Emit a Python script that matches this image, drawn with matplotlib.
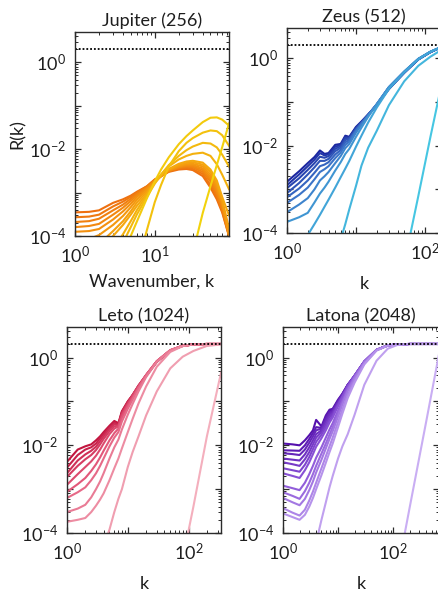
import numpy as np
import matplotlib
matplotlib.use("Agg")
import matplotlib.pyplot as plt
from matplotlib.ticker import FixedLocator, FuncFormatter, LogLocator, NullFormatter
from matplotlib.colors import to_rgb

plt.rcParams['font.family'] = ['Lato', 'DejaVu Sans']
plt.rcParams['mathtext.fontset'] = 'custom'
plt.rcParams['mathtext.rm'] = 'Lato'
plt.rcParams['mathtext.it'] = 'Lato:italic'
plt.rcParams['axes.unicode_minus'] = False

# ---------------- data ----------------
titles = ["Jupiter (256)", "Zeus (512)", "Leto (1024)", "Latona (2048)"]
kmax = [256 / 3, 512 / 3, 1024 / 3, 2048 / 3]
r_target = 2.0

k_jup = [1, 1.5, 2, 3, 4, 5, 6, 8, 10, 12, 15, 20, 25, 30, 40, 50, 60, 70, 85.3]
jupiter = [
    [3.5e-4, 3.6e-4, 3.9e-4, 5.8e-4, 7.0e-4, 8.5e-4, 1.05e-3, 1.4e-3, 2.0e-3, 2.4e-3, 3.0e-3, 3.4e-3, 3.5e-3, 3.3e-3, 2.4e-3, 1.3e-3, 7.0e-4, 3.5e-4, 1.0e-4],
    [2.7e-4, 2.8e-4, 3.1e-4, 4.8e-4, 6.2e-4, 8.0e-4, 1.0e-3, 1.4e-3, 2.0e-3, 2.4e-3, 3.1e-3, 3.6e-3, 3.7e-3, 3.5e-3, 2.7e-3, 1.5e-3, 8.0e-4, 3.8e-4, 1.0e-4],
    [2.1e-4, 2.2e-4, 2.5e-4, 3.9e-4, 5.3e-4, 7.2e-4, 9.5e-4, 1.35e-3, 1.95e-3, 2.4e-3, 3.1e-3, 3.7e-3, 3.9e-3, 3.8e-3, 3.0e-3, 1.8e-3, 9.0e-4, 4.2e-4, 1.05e-4],
    [1.6e-4, 1.7e-4, 1.9e-4, 3.1e-4, 4.5e-4, 6.4e-4, 8.8e-4, 1.3e-3, 1.9e-3, 2.4e-3, 3.2e-3, 3.8e-3, 4.1e-3, 4.0e-3, 3.3e-3, 2.0e-3, 1.05e-3, 4.8e-4, 1.05e-4],
    [1.25e-4, 1.3e-4, 1.45e-4, 2.4e-4, 3.7e-4, 5.5e-4, 8.0e-4, 1.25e-3, 1.85e-3, 2.4e-3, 3.2e-3, 3.9e-3, 4.3e-3, 4.3e-3, 3.6e-3, 2.3e-3, 1.2e-3, 5.5e-4, 1.1e-4],
    [7e-5, 8.5e-5, 1.05e-4, 1.8e-4, 2.9e-4, 4.6e-4, 7.0e-4, 1.15e-3, 1.8e-3, 2.4e-3, 3.3e-3, 4.1e-3, 4.5e-3, 4.6e-3, 4.0e-3, 2.6e-3, 1.4e-3, 6.2e-4, 1.1e-4],
    [3e-5, 4.5e-5, 6.5e-5, 1.3e-4, 2.2e-4, 3.7e-4, 6.0e-4, 1.05e-3, 1.75e-3, 2.4e-3, 3.4e-3, 4.3e-3, 4.8e-3, 5.0e-3, 4.4e-3, 3.0e-3, 1.6e-3, 7.0e-4, 1.5e-4],
    [1.5e-5, 2.5e-5, 3.5e-5, 1.0e-4, 1.8e-4, 3.1e-4, 5.0e-4, 9.5e-4, 1.7e-3, 2.4e-3, 3.5e-3, 4.6e-3, 5.2e-3, 5.4e-3, 4.9e-3, 3.4e-3, 1.9e-3, 8.0e-4, 3.0e-4],
    [1e-6, 5e-6, 1.5e-5, 5e-5, 1.1e-4, 2.2e-4, 4.0e-4, 9.0e-4, 1.7e-3, 2.6e-3, 4.0e-3, 5.8e-3, 7.0e-3, 7.8e-3, 8.3e-3, 7.0e-3, 4.5e-3, 2.6e-3, 1.2e-3],
    [1e-6, 3e-6, 8e-6, 2e-5, 7e-5, 1.6e-4, 3.2e-4, 8.0e-4, 1.6e-3, 2.6e-3, 4.3e-3, 7.0e-3, 9.5e-3, 1.15e-2, 1.4e-2, 1.35e-2, 1.1e-2, 7.5e-3, 4.0e-3],
    [1e-7, 1e-7, 1e-7, 1e-6, 3e-6, 8e-6, 2e-5, 1.4e-4, 6e-4, 1.5e-3, 4.0e-3, 9.0e-3, 1.4e-2, 1.8e-2, 2.4e-2, 2.7e-2, 2.6e-2, 2.1e-2, 1.2e-2],
    [1e-7, 1e-7, 1e-6, 5e-6, 3e-5, 1.0e-4, 2.2e-4, 7.5e-4, 1.8e-3, 3.4e-3, 6.5e-3, 1.3e-2, 2.0e-2, 2.7e-2, 4.2e-2, 5.3e-2, 5.4e-2, 4.8e-2, 3.5e-2],
    [1e-9, 1e-9, 1e-9, 1e-9, 1e-9, 1e-9, 1e-9, 1e-8, 1e-7, 3e-7, 2e-6, 1e-5, 4e-5, 4e-5, 3.4e-4, 1.4e-3, 4.3e-3, 1.1e-2, 3.9e-2],
]

k_zeus = [1, 1.5, 2, 2.5, 3, 3.5, 4, 5, 6, 7, 8, 10, 12, 15, 20, 30, 50, 80, 120, 170.7]
zeus = [
    [1.5e-3, 2.6e-3, 4.0e-3, 5.5e-3, 7.8e-3, 6.5e-3, 6.8e-3, 1.05e-2, 1.1e-2, 1.7e-2, 1.6e-2, 2.7e-2, 3.6e-2, 5.2e-2, 8.5e-2, 0.20, 0.47, 0.95, 1.40, 1.80],
    [1.25e-3, 2.2e-3, 3.4e-3, 4.8e-3, 6.8e-3, 6.0e-3, 6.4e-3, 9.5e-3, 1.05e-2, 1.6e-2, 1.55e-2, 2.6e-2, 3.5e-2, 5.2e-2, 8.6e-2, 0.20, 0.47, 0.95, 1.40, 1.80],
    [1.07e-3, 1.8e-3, 2.8e-3, 4.0e-3, 5.6e-3, 5.3e-3, 5.8e-3, 8.5e-3, 9.8e-3, 1.5e-2, 1.5e-2, 2.5e-2, 3.4e-2, 5.1e-2, 8.7e-2, 0.21, 0.48, 0.96, 1.40, 1.80],
    [8.2e-4, 1.4e-3, 2.2e-3, 3.2e-3, 4.5e-3, 4.5e-3, 5.0e-3, 7.5e-3, 9.0e-3, 1.35e-2, 1.45e-2, 2.4e-2, 3.4e-2, 5.1e-2, 8.8e-2, 0.21, 0.48, 0.96, 1.42, 1.80],
    [6.6e-4, 1.05e-3, 1.6e-3, 2.4e-3, 3.4e-3, 3.7e-3, 4.2e-3, 6.3e-3, 8.0e-3, 1.2e-2, 1.35e-2, 2.3e-2, 3.3e-2, 5.0e-2, 8.9e-2, 0.22, 0.49, 0.97, 1.42, 1.80],
    [4.9e-4, 7.5e-4, 1.1e-3, 1.7e-3, 2.5e-3, 2.9e-3, 3.4e-3, 5.2e-3, 7.0e-3, 1.05e-2, 1.25e-2, 2.2e-2, 3.2e-2, 5.0e-2, 9.0e-2, 0.22, 0.50, 0.98, 1.43, 1.82],
    [3.0e-4, 4.5e-4, 6.3e-4, 1.0e-3, 1.6e-3, 2.0e-3, 2.5e-3, 4.0e-3, 5.8e-3, 8.8e-3, 1.1e-2, 2.0e-2, 3.0e-2, 4.9e-2, 9.0e-2, 0.22, 0.50, 0.98, 1.43, 1.82],
    [1.8e-4, 2.3e-4, 2.9e-4, 5.0e-4, 8.0e-4, 1.1e-3, 1.5e-3, 2.7e-3, 4.2e-3, 6.5e-3, 8.5e-3, 1.6e-2, 2.6e-2, 4.6e-2, 8.8e-2, 0.22, 0.50, 0.98, 1.43, 1.82],
    [2e-5, 5e-5, 9e-5, 1.6e-4, 2.6e-4, 4.0e-4, 5.8e-4, 1.1e-3, 1.9e-3, 3.0e-3, 4.5e-3, 9.5e-3, 1.7e-2, 3.4e-2, 7.5e-2, 0.20, 0.48, 0.96, 1.42, 1.80],
    [1e-8, 1e-7, 5e-7, 2e-6, 5e-6, 1e-5, 1.8e-5, 3.5e-5, 7e-5, 1.6e-4, 3.5e-4, 1.2e-3, 3.5e-3, 9e-3, 2.2e-2, 8.5e-2, 0.30, 0.68, 1.10, 1.55],
    [1e-10, 1e-10, 1e-10, 1e-10, 1e-10, 1e-10, 1e-10, 1e-10, 1e-10, 1e-10, 1e-10, 1e-9, 1e-9, 1e-8, 1e-7, 1e-6, 2e-5, 7e-4, 1.6e-2, 0.22],
]

k_leto = [1, 1.5, 2, 2.5, 3, 3.5, 4, 5, 6, 7, 8, 10, 12, 15, 20, 30, 50, 80, 120, 200, 341.3]
leto = [
    [4.2e-3, 8.0e-3, 9.5e-3, 1.05e-2, 1.3e-2, 1.6e-2, 2.0e-2, 2.8e-2, 3.6e-2, 3.2e-2, 6.0e-2, 0.10, 0.14, 0.22, 0.38, 0.80, 1.45, 1.85, 2.0, 2.05, 2.05],
    [3.1e-3, 6.0e-3, 8.0e-3, 9.0e-3, 1.1e-2, 1.45e-2, 1.8e-2, 2.6e-2, 3.3e-2, 3.0e-2, 5.8e-2, 0.10, 0.14, 0.23, 0.39, 0.80, 1.45, 1.85, 2.0, 2.05, 2.05],
    [2.3e-3, 4.5e-3, 6.2e-3, 7.5e-3, 9.3e-3, 1.25e-2, 1.6e-2, 2.4e-2, 3.0e-2, 2.9e-2, 5.5e-2, 0.095, 0.14, 0.23, 0.40, 0.82, 1.47, 1.86, 2.0, 2.05, 2.05],
    [1.9e-3, 3.4e-3, 4.8e-3, 6.0e-3, 7.8e-3, 1.05e-2, 1.4e-2, 2.1e-2, 2.7e-2, 2.8e-2, 5.2e-2, 0.09, 0.14, 0.23, 0.40, 0.82, 1.47, 1.86, 2.0, 2.05, 2.05],
    [1.26e-3, 2.2e-3, 3.2e-3, 4.3e-3, 5.8e-3, 8.0e-3, 1.1e-2, 1.8e-2, 2.4e-2, 2.7e-2, 4.8e-2, 0.085, 0.13, 0.22, 0.40, 0.83, 1.48, 1.87, 2.0, 2.05, 2.05],
    [8.7e-4, 1.3e-3, 1.8e-3, 2.6e-3, 3.7e-3, 5.3e-3, 7.5e-3, 1.3e-2, 1.9e-2, 2.4e-2, 4.2e-2, 0.078, 0.12, 0.21, 0.40, 0.83, 1.48, 1.87, 2.0, 2.05, 2.05],
    [6.3e-4, 8.5e-4, 1.1e-3, 1.6e-3, 2.3e-3, 3.4e-3, 5.0e-3, 9.5e-3, 1.5e-2, 2.0e-2, 3.5e-2, 0.068, 0.11, 0.20, 0.39, 0.83, 1.48, 1.87, 2.0, 2.05, 2.05],
    [3.0e-4, 3.6e-4, 4.4e-4, 6.5e-4, 1.0e-3, 1.5e-3, 2.3e-3, 5.0e-3, 9.0e-3, 1.35e-2, 2.3e-2, 5.0e-2, 8.8e-2, 0.17, 0.36, 0.80, 1.47, 1.87, 2.0, 2.05, 2.05],
    [1.8e-4, 2.0e-4, 2.2e-4, 3.0e-4, 4.2e-4, 5.8e-4, 8.0e-4, 1.6e-3, 3.0e-3, 5.0e-3, 8.5e-3, 2.0e-2, 4.0e-2, 9.0e-2, 0.22, 0.62, 1.35, 1.83, 2.0, 2.05, 2.05],
    [1e-7, 5e-7, 2e-6, 5e-6, 1.2e-5, 2.5e-5, 5e-5, 1.2e-4, 3e-4, 6e-4, 1.0e-3, 3.2e-3, 7.0e-3, 1.6e-2, 4.8e-2, 0.17, 0.57, 1.05, 1.42, 1.85, 2.0],
    [1e-10, 1e-10, 1e-10, 1e-10, 1e-10, 1e-10, 1e-10, 1e-10, 1e-10, 1e-10, 1e-10, 1e-10, 1e-9, 1e-9, 1e-8, 1e-7, 1e-6, 2.5e-5, 4e-4, 1.6e-2, 0.45],
]

k_latona = [1, 1.5, 2, 2.5, 3, 3.5, 4, 5, 6, 7, 8, 10, 12, 15, 20, 30, 50, 80, 120, 200, 400, 682.7]
latona = [
    [1.1e-2, 1.05e-2, 1.0e-2, 1.3e-2, 1.7e-2, 2.2e-2, 3.8e-2, 2.7e-2, 4.8e-2, 6.5e-2, 6.8e-2, 0.11, 0.15, 0.24, 0.38, 0.80, 1.50, 1.90, 2.0, 2.05, 2.05, 2.05],
    [7.7e-3, 7.6e-3, 7.5e-3, 1.0e-2, 1.4e-2, 1.9e-2, 2.6e-2, 2.5e-2, 4.4e-2, 6.0e-2, 6.5e-2, 0.105, 0.15, 0.24, 0.38, 0.80, 1.50, 1.90, 2.0, 2.05, 2.05, 2.05],
    [6.6e-3, 6.3e-3, 6.0e-3, 8.0e-3, 1.15e-2, 1.6e-2, 2.2e-2, 2.4e-2, 4.0e-2, 5.5e-2, 6.2e-2, 0.10, 0.145, 0.24, 0.39, 0.81, 1.50, 1.90, 2.0, 2.05, 2.05, 2.05],
    [5.0e-3, 4.7e-3, 4.5e-3, 6.2e-3, 9.0e-3, 1.3e-2, 1.8e-2, 2.2e-2, 3.5e-2, 5.0e-2, 5.8e-2, 0.095, 0.14, 0.24, 0.39, 0.81, 1.50, 1.90, 2.0, 2.05, 2.05, 2.05],
    [4.1e-3, 3.7e-3, 3.4e-3, 4.8e-3, 7.0e-3, 1.05e-2, 1.5e-2, 2.0e-2, 3.0e-2, 4.4e-2, 5.3e-2, 0.09, 0.135, 0.23, 0.39, 0.82, 1.50, 1.90, 2.0, 2.05, 2.05, 2.05],
    [3.0e-3, 2.7e-3, 2.5e-3, 3.6e-3, 5.4e-3, 8.2e-3, 1.2e-2, 1.75e-2, 2.6e-2, 3.8e-2, 4.8e-2, 0.085, 0.13, 0.23, 0.39, 0.82, 1.50, 1.90, 2.0, 2.05, 2.05, 2.05],
    [2.3e-3, 2.0e-3, 1.8e-3, 2.7e-3, 4.1e-3, 6.3e-3, 9.3e-3, 1.45e-2, 2.2e-2, 3.3e-2, 4.3e-2, 0.078, 0.125, 0.22, 0.39, 0.82, 1.50, 1.90, 2.0, 2.05, 2.05, 2.05],
    [1.2e-3, 1.05e-3, 9.5e-4, 1.4e-3, 2.2e-3, 3.4e-3, 5.2e-3, 9.0e-3, 1.5e-2, 2.3e-2, 3.2e-2, 6.2e-2, 0.105, 0.20, 0.37, 0.81, 1.50, 1.90, 2.0, 2.05, 2.05, 2.05],
    [8.5e-4, 7.0e-4, 6.0e-4, 9.0e-4, 1.4e-3, 2.2e-3, 3.4e-3, 6.5e-3, 1.1e-2, 1.75e-2, 2.6e-2, 5.3e-2, 9.5e-2, 0.19, 0.36, 0.80, 1.50, 1.90, 2.0, 2.05, 2.05, 2.05],
    [6.3e-4, 5.0e-4, 4.3e-4, 6.0e-4, 9.5e-4, 1.5e-3, 2.4e-3, 4.7e-3, 8.5e-3, 1.4e-2, 2.1e-2, 4.5e-2, 8.5e-2, 0.17, 0.34, 0.78, 1.50, 1.90, 2.0, 2.05, 2.05, 2.05],
    [3.7e-4, 2.9e-4, 2.5e-4, 3.4e-4, 5.5e-4, 8.8e-4, 1.4e-3, 3.0e-3, 5.6e-3, 9.5e-3, 1.5e-2, 3.4e-2, 6.6e-2, 0.14, 0.30, 0.74, 1.47, 1.90, 2.0, 2.05, 2.05, 2.05],
    [2.8e-4, 2.3e-4, 2.0e-4, 2.6e-4, 4.0e-4, 6.3e-4, 1.0e-3, 2.1e-3, 4.0e-3, 7.0e-3, 1.1e-2, 2.6e-2, 5.3e-2, 0.12, 0.27, 0.70, 1.45, 1.88, 2.0, 2.05, 2.05, 2.05],
    [1e-7, 5e-7, 2e-6, 5e-6, 1.2e-5, 3e-5, 6e-5, 2e-4, 5e-4, 1.1e-3, 2.0e-3, 5.0e-3, 9.5e-3, 1.8e-2, 5.0e-2, 0.24, 0.85, 1.60, 1.95, 2.05, 2.05, 2.05],
    [1e-10, 1e-10, 1e-10, 1e-10, 1e-10, 1e-10, 1e-10, 1e-10, 1e-10, 1e-10, 1e-10, 1e-10, 1e-10, 1e-9, 1e-9, 1e-8, 1e-7, 1e-6, 1.3e-5, 3.8e-4, 3.5e-2, 1.2],
]

# ---------------- style ----------------
palettes = [
    ["#ee7010", "#f5a00f", "#f2d20c"],
    ["#1a25a0", "#3c74c8", "#46c6e2"],
    ["#c2153f", "#e2587a", "#f4afbd"],
    ["#5510ad", "#8c56d8", "#c9aef3"],
]


def ramp(stops, n):
    cols = [np.array(to_rgb(c)) for c in stops]
    out = []
    for i in range(n):
        t = i / max(n - 1, 1) * (len(cols) - 1)
        j = min(int(t), len(cols) - 2)
        f = t - j
        out.append(tuple(cols[j] * (1 - f) + cols[j + 1] * f))
    return out


W, H = 438, 591
fig = plt.figure(figsize=(W / 100, H / 100), dpi=100)

# axes boxes in pixels: left, right, top, bottom
boxes = [(75, 229, 32, 236), (287, 441, 28, 233), (67, 221, 327, 533), (283, 439, 327, 533)]
kgrids = [k_jup, k_zeus, k_leto, k_latona]
datas = [jupiter, zeus, leto, latona]
xlabels = ["Wavenumber, k", "k", "k", "k"]
xlabelpads = [5, 9, 9, 9]
xlab_decades = [[0, 1], [0, 2], [0, 2], [0, 2]]
ink = "#2b2b2b"
txt = "#1e1e1e"

for i in range(4):
    l, r, t, b = boxes[i]
    ax = fig.add_axes([l / W, 1 - b / H, (r - l) / W, (b - t) / H])
    ax.set_xscale("log")
    ax.set_yscale("log")
    cols = ramp(palettes[i], len(datas[i]))
    for j, curve in enumerate(datas[i]):
        ax.plot(kgrids[i], curve, color=cols[j], lw=1.5, solid_joinstyle="round")
    ax.axhline(r_target, color="black", ls=(0, (1, 1.1)), lw=1.3)
    ax.set_xlim(1, kmax[i])
    ax.set_ylim(1e-4, 5)

    xd = xlab_decades[i]
    ax.xaxis.set_major_locator(FixedLocator([1, 10, 100, 1000]))
    ax.xaxis.set_major_formatter(FuncFormatter(
        lambda v, p, xd=xd: ("$10^{%d}$" % int(round(np.log10(v)))) if int(round(np.log10(v))) in xd else ""))
    ax.xaxis.set_minor_locator(LogLocator(base=10, subs=np.arange(2, 10), numticks=20))
    ax.xaxis.set_minor_formatter(NullFormatter())
    ax.yaxis.set_major_locator(FixedLocator([1e-4, 1e-3, 1e-2, 1e-1, 1]))
    ax.yaxis.set_major_formatter(FuncFormatter(
        lambda v, p: (r"$10^{%d}$" % int(round(np.log10(v)))) if int(round(np.log10(v))) % 2 == 0 else ""))
    ax.yaxis.set_minor_locator(LogLocator(base=10, subs=np.arange(2, 10), numticks=20))
    ax.yaxis.set_minor_formatter(NullFormatter())

    ax.tick_params(which="both", direction="in", top=True, right=True, colors=ink, labelcolor=txt)
    ax.tick_params(which="major", length=4.5, width=0.9, labelsize=13, pad=6.5)
    ax.tick_params(which="minor", length=2.3, width=0.7)
    for s in ax.spines.values():
        s.set_color(ink)
        s.set_linewidth(1.0)

    ax.set_title(titles[i], fontsize=13, color=txt, pad=4)
    ax.set_xlabel(xlabels[i], fontsize=13, color=txt, labelpad=xlabelpads[i])
    if i == 0:
        ax.set_ylabel("R(k)", fontsize=13, color=txt, labelpad=2)

fig.savefig("out.png", dpi=100)
